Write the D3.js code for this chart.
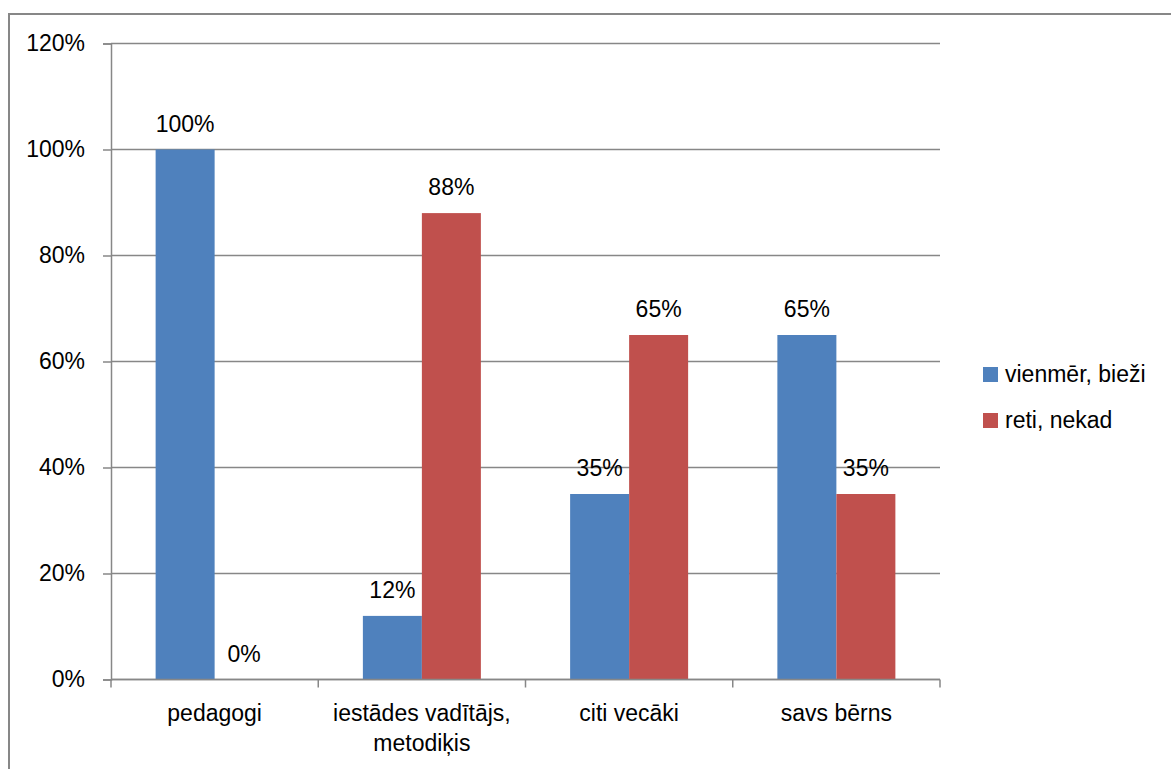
<!DOCTYPE html>
<html>
<head>
<meta charset="utf-8">
<script src="https://cdn.jsdelivr.net/npm/d3@7"></script>
<style>
  body { margin: 0; background: #fff; }
  svg { display: block; font-family: "Liberation Sans", Arial, sans-serif; }
</style>
</head>
<body>
<svg id="chart" width="1171" height="769"></svg>
<script>
// data
var categories = ["pedagogi", "iestādes vadītājs,\nmetodiķis", "citi vecāki", "savs bērns"];
var seriesNames = ["vienmēr, bieži", "reti, nekad"];
var often = [1.00, 0.12, 0.35, 0.65];
var rarely = [0.00, 0.88, 0.65, 0.35];
var yTicks = [0, 0.2, 0.4, 0.6, 0.8, 1.0, 1.2];
var colors = ["#4F81BD", "#C0504D"];

var svg = d3.select("#chart"),
    plot = {left: 111, right: 940, top: 43.5, bottom: 679.5},
    fontSize = 23,
    gridColor = "#878787";

var values = [often, rarely];
var data = categories.map(function(c, i) {
  return {cat: c, vals: seriesNames.map(function(s, j) { return {key: s, i: j, v: values[j][i]}; })};
});

// outer chart border
svg.append("rect")
    .attr("x", 9).attr("y", 14)
    .attr("width", 1175).attr("height", 770)
    .attr("fill", "none")
    .attr("stroke", gridColor)
    .attr("stroke-width", 2);

var x0 = d3.scaleBand()
    .domain(categories)
    .range([plot.left, plot.right])
    .padding(0);

var barW = 59;
var outerPad = (x0.bandwidth() - 2 * barW) / 2;
var x1 = d3.scaleBand()
    .domain(seriesNames)
    .range([outerPad, outerPad + 2 * barW])
    .padding(0);

var y = d3.scaleLinear()
    .domain([0, 1.2])
    .range([plot.bottom, plot.top]);

var fmt = d3.format(".0%");

// gridlines
svg.append("g")
  .selectAll("line")
  .data(yTicks)
  .enter().append("line")
    .attr("x1", plot.left).attr("x2", plot.right)
    .attr("y1", function(d) { return y(d); })
    .attr("y2", function(d) { return y(d); })
    .attr("stroke", gridColor)
    .attr("stroke-width", 1.5);

// y axis
var yAxis = svg.append("g")
    .attr("transform", "translate(" + plot.left + ",0)")
    .call(d3.axisLeft(y).tickValues(yTicks).tickFormat(fmt).tickSize(8).tickPadding(18));
yAxis.select(".domain").attr("stroke", gridColor).attr("stroke-width", 1.5);
yAxis.selectAll(".tick line").attr("stroke", gridColor).attr("stroke-width", 1.5);
yAxis.selectAll("text")
    .attr("font-size", fontSize)
    .attr("font-family", "Liberation Sans, Arial, sans-serif")
    .attr("fill", "#000");

// bars
var groups = svg.append("g")
  .selectAll("g")
  .data(data)
  .enter().append("g")
    .attr("transform", function(d) { return "translate(" + x0(d.cat) + ",0)"; });

groups.selectAll("rect")
  .data(function(d) { return d.vals; })
  .enter().append("rect")
    .attr("x", function(d) { return x1(d.key); })
    .attr("y", function(d) { return y(d.v); })
    .attr("width", x1.bandwidth())
    .attr("height", function(d) { return y(0) - y(d.v); })
    .attr("fill", function(d) { return colors[d.i]; });

// value labels
groups.selectAll("text")
  .data(function(d) { return d.vals; })
  .enter().append("text")
    .attr("x", function(d) { return x1(d.key) + x1.bandwidth() / 2; })
    .attr("y", function(d) { return y(d.v) - 18; })
    .attr("text-anchor", "middle")
    .attr("font-size", fontSize)
    .attr("fill", "#000")
    .text(function(d) { return fmt(d.v); });

// x axis
var xAxis = svg.append("g")
    .attr("transform", "translate(0," + plot.bottom + ")");
xAxis.append("line")
    .attr("x1", plot.left).attr("x2", plot.right)
    .attr("stroke", gridColor).attr("stroke-width", 1.5);
var edges = categories.map(function(c) { return x0(c); }).concat([plot.right]);
xAxis.selectAll(".xtick")
  .data(edges)
  .enter().append("line")
    .attr("class", "xtick")
    .attr("x1", function(d) { return d; }).attr("x2", function(d) { return d; })
    .attr("y1", 0).attr("y2", 8)
    .attr("stroke", gridColor).attr("stroke-width", 1.5);

var catLabels = xAxis.selectAll(".cat")
  .data(categories)
  .enter().append("text")
    .attr("class", "cat")
    .attr("text-anchor", "middle")
    .attr("font-size", fontSize)
    .attr("fill", "#000")
    .attr("transform", function(d) { return "translate(" + (x0(d) + x0.bandwidth() / 2) + ",0)"; });
catLabels.selectAll("tspan")
  .data(function(d) { return d.split("\n"); })
  .enter().append("tspan")
    .attr("x", 0)
    .attr("y", function(d, i) { return 41 + i * 30; })
    .text(function(d) { return d; });

// legend
var legend = svg.append("g")
  .selectAll("g")
  .data(seriesNames)
  .enter().append("g")
    .attr("transform", function(d, i) { return "translate(983," + (382 + i * 46) + ")"; });

legend.append("rect")
    .attr("x", 0).attr("y", -15)
    .attr("width", 15).attr("height", 15)
    .attr("fill", function(d, i) { return colors[i]; });

legend.append("text")
    .attr("x", 22)
    .attr("y", 0)
    .attr("font-size", fontSize)
    .attr("fill", "#000")
    .text(function(d) { return d; });
</script>
</body>
</html>
